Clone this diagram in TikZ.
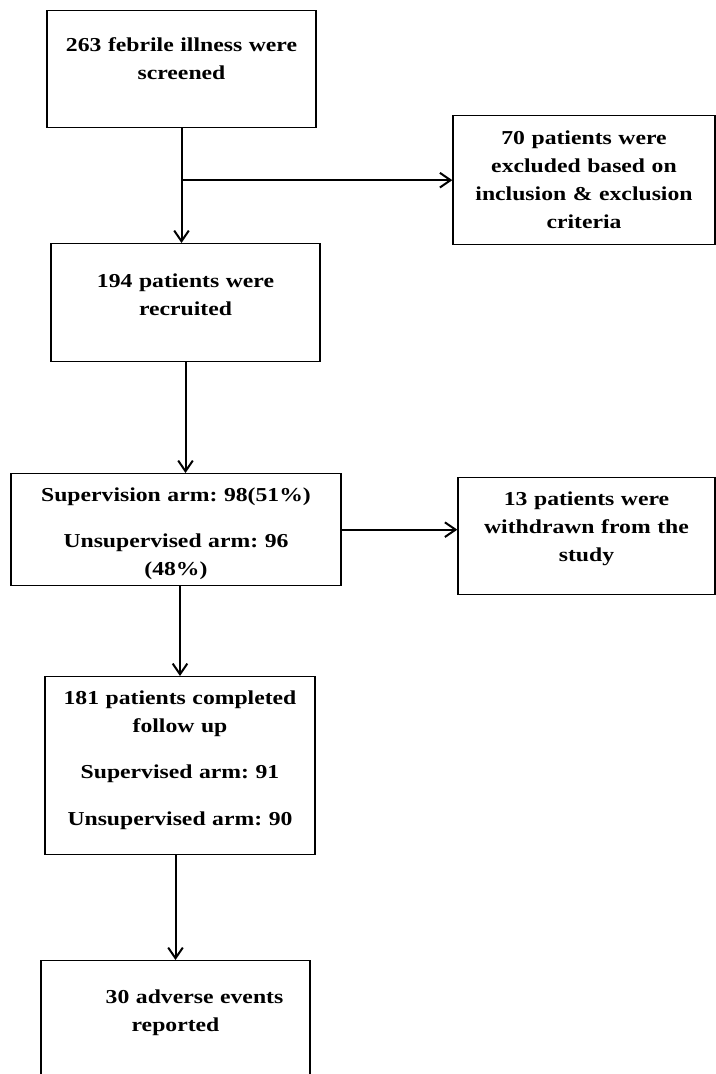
\documentclass[tikz,border=0pt]{standalone}
\usepackage{fontspec}
\setmainfont[FakeStretch=1.2]{Liberation Serif}
\frenchspacing
\usetikzlibrary{arrows.meta}
\tikzset{
  stage/.style={draw, line width=1pt, anchor=north, align=center, inner sep=0pt,
    font=\fontsize{14.8}{21}\selectfont\bfseries},
  flow/.style={line width=1.5pt, -{Straight Barb[length=8pt,width=11pt]}}
}
\begin{document}
\begin{tikzpicture}[x=0.75pt,y=-0.75pt]
\useasboundingbox (0,0) rectangle (716,1074);
\node[stage, text width=201.75pt, text height=30.75pt, text depth=57pt] (screen) at (181.5,10) {263 febrile illness were\\screened};
\node[stage, text width=196.5pt, text height=21.4pt, text depth=75.35pt] (excl) at (584,115) {70 patients were\\excluded based on\\inclusion \& exclusion\\criteria};
\node[stage, text width=201.75pt, text height=33pt, text depth=55.5pt] (recruited) at (185.5,243) {194 patients were\\recruited};
\node[stage, text width=247.5pt, text height=20.6pt, text depth=63.4pt] (arms) at (176,473) {Supervision arm: 98(51\%)\\[14pt]Unsupervised arm: 96\\(48\%)};
\node[stage, text width=192.75pt, text height=20.6pt, text depth=67.15pt] (wd) at (586.5,477) {13 patients were\\withdrawn from the\\study};
\node[stage, text width=202.5pt, text height=20.6pt, text depth=112.9pt] (completed) at (180,676) {181 patients completed\\follow up\\[14pt]Supervised arm: 91\\[14pt]Unsupervised arm: 90};
\node[stage, text width=201.75pt, text height=31.9pt, text depth=65.6pt] (events) at (175.5,960) {\hspace*{28.5pt}30 adverse events\\reported};
\draw[flow] (screen.south) -- (screen.south |- recruited.north);
\draw[flow] (screen.south |- excl.west) -- (excl.west);
\draw[flow] (recruited.south) -- (recruited.south |- arms.north);
\draw[flow] (arms.east) -- (arms.east -| wd.west);
\draw[flow] (arms.south -| completed.north) -- (completed.north);
\draw[flow] (completed.south -| events.north) -- (events.north);
\end{tikzpicture}
\end{document}
